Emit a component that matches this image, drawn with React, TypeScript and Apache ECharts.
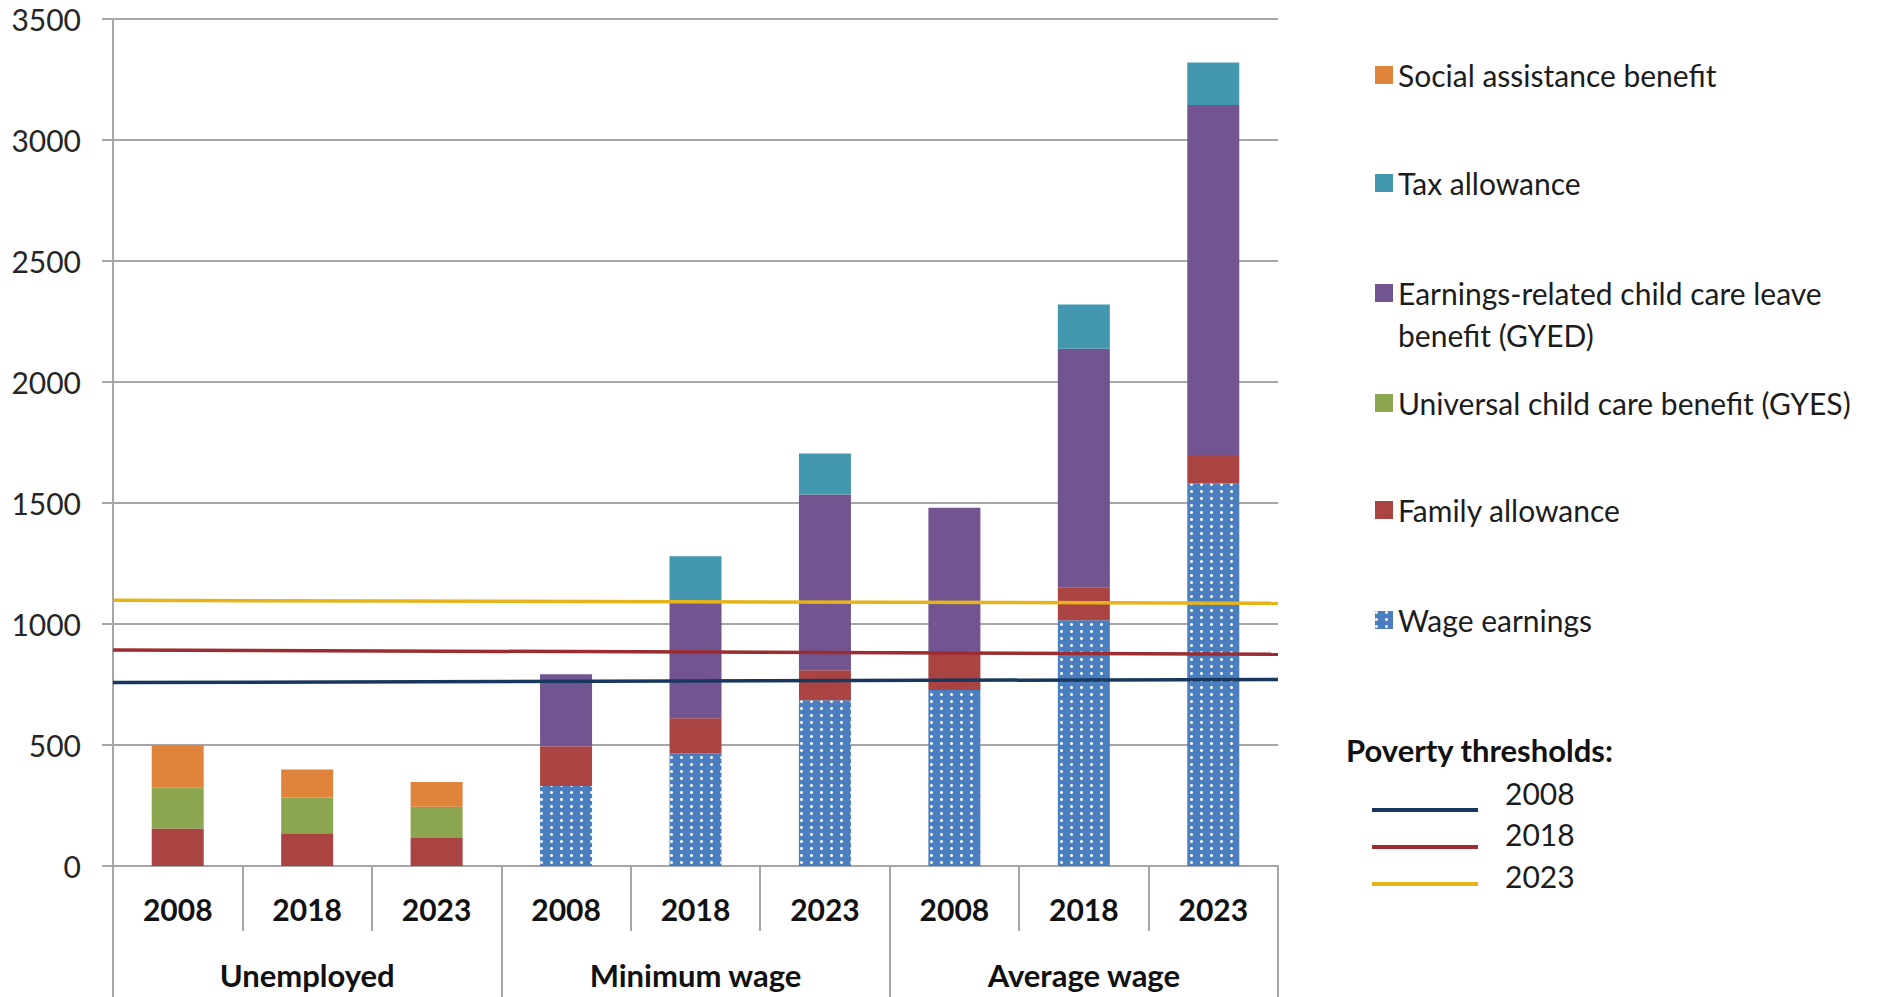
import React, { useEffect, useRef } from "react";
import * as echarts from "echarts";

// Household type groups and the years shown inside each group
const groups = ["Unemployed", "Minimum wage", "Average wage"];
const years = ["2008", "2018", "2023", "2008", "2018", "2023", "2008", "2018", "2023"];

// Monthly income components (stacked from the bottom up)
const wageEarnings = [null, null, null, 331, 466, 685, 727, 1015, 1582];
const familyAllowance = [155, 135, 116, 164, 145, 124, 160, 137, 116];
const universalChildCare = [170, 148, 129, null, null, null, null, null, null];
const earningsRelatedChildCare = [null, null, null, 297, 487, 726, 593, 985, 1447];
const taxAllowance = [null, null, null, null, 182, 170, null, 183, 175];
const socialAssistance = [175, 116, 102, null, null, null, null, null, null];

// Poverty thresholds (value at the left and right end of the plot)
const thresholdYears = ["2008", "2018", "2023"];
const threshold2008 = [758, 771];
const threshold2018 = [893, 875];
const threshold2023 = [1098, 1086];

// Value-axis scale
const yMin = 0;
const yMax = 3500;
const yStep = 500;

const FONT = "Lato";
const GRID_GREY = "#A6A6A6";
const TEXT = "#1c1c1c";

const COLORS = {
  wage: "#4A7EBF",
  family: "#AA4442",
  gyes: "#8BA64F",
  gyed: "#725590",
  tax: "#4397AF",
  social: "#E0843C",
  t2008: "#17375E",
  t2018: "#9B2D30",
  t2023: "#E6B418",
};

const NAMES = {
  wage: "Wage earnings",
  family: "Family allowance",
  gyes: "Universal child care benefit (GYES)",
  gyed: "Earnings-related child care leave benefit (GYED)",
  tax: "Tax allowance",
  social: "Social assistance benefit",
};

// Legend swatch for the two-line entry: a square level with the first text
// line; a tiny dot at the opposite corner keeps the icon box 60px tall.
const ICON_SQUARE_TOP = "path://M0,0h18v18h-18z M17.99,59.99h0.01v0.01h-0.01z";

// Threshold legend swatch: a 4px line at the bottom of an icon box of height h,
// so that the year label (centred on the box) sits above the line.
function lowLineIcon(h: number) {
  return `path://M0,0h0.01v0.01h-0.01z M0,${h - 4}h106v4h-106z`;
}

function barSeries(name: string, data: (number | null)[], color: string, extra: any = {}) {
  return {
    name,
    type: "bar",
    stack: "total",
    xAxisIndex: 0,
    yAxisIndex: 0,
    barWidth: 52,
    data,
    itemStyle: { color, ...extra },
    z: 2,
  };
}

function lineSeries(name: string, values: number[], color: string) {
  return {
    name,
    type: "line",
    xAxisIndex: 2,
    yAxisIndex: 0,
    data: [
      [0, values[0]],
      [1, values[1]],
    ],
    symbol: "none",
    color,
    lineStyle: { color, width: 3.5 },
    clip: false,
    z: 5,
  };
}

const legendText = { fontFamily: FONT, fontSize: 30, color: TEXT, lineHeight: 36 };

function barLegend(name: string, top: number) {
  return {
    data: [name],
    left: 1375,
    top,
    orient: "vertical",
    padding: 0,
    itemWidth: 18,
    itemHeight: 18,
    icon: "rect",
    selectedMode: false,
    textStyle: { ...legendText },
  };
}

// lineY: centre of the swatch line; rise: how far the label sits above it
function lineLegend(name: string, lineY: number, rise: number) {
  const h = 2 * (rise + 2);
  const textH = 34;
  const iconTop = lineY - (h - 2);
  const top = iconTop + Math.min(0, h / 2 - textH / 2);
  return {
    data: [name],
    left: 1372,
    top,
    orient: "vertical",
    padding: 0,
    itemWidth: 106,
    itemHeight: h,
    icon: lowLineIcon(h),
    selectedMode: false,
    textStyle: {
      fontFamily: FONT,
      fontSize: 30,
      color: TEXT,
      lineHeight: textH,
      padding: [0, 0, 0, 22],
    },
  };
}

export default function App() {
  const ref = useRef<HTMLDivElement>(null);

  useEffect(() => {
    if (!ref.current) return;
    const chart = echarts.init(ref.current, undefined, { renderer: "svg" });

    const wageDecal = {
      symbol: "circle",
      symbolSize: 1,
      symbolKeepAspect: false,
      color: "#ffffff",
      dashArrayX: [3, 7],
      dashArrayY: [3, 3.5],
    };

    chart.setOption({
      animation: false,
      backgroundColor: "#ffffff",
      grid: { left: 113, right: 612, top: 19, bottom: 131, containLabel: false },
      title: {
        text: "Poverty thresholds:",
        left: 1346,
        top: 732,
        padding: 0,
        textStyle: { fontFamily: FONT, fontSize: 31, fontWeight: "bold", color: "#111", lineHeight: 36 },
      },
      legend: [
        barLegend(NAMES.social, 75 - 18),
        barLegend(NAMES.tax, 183 - 18),
        {
          data: [NAMES.gyed],
          left: 1375,
          top: 293 - 21,
          orient: "vertical",
          padding: 0,
          itemWidth: 18,
          itemHeight: 60,
          icon: ICON_SQUARE_TOP,
          selectedMode: false,
          formatter: "Earnings-related child care leave\nbenefit (GYED)",
          textStyle: { ...legendText, lineHeight: 42 },
        },
        barLegend(NAMES.gyes, 403 - 18),
        barLegend(NAMES.family, 510 - 18),
        barLegend(NAMES.wage, 620 - 18),
        lineLegend(thresholdYears[0], 810, 17),
        lineLegend(thresholdYears[1], 847, 13),
        lineLegend(thresholdYears[2], 884, 8),
      ],
      xAxis: [
        {
          type: "category",
          data: years,
          position: "bottom",
          axisLine: { show: true, lineStyle: { color: GRID_GREY, width: 2 } },
          axisTick: { show: true, length: 65, interval: 0, lineStyle: { color: GRID_GREY, width: 2 } },
          axisLabel: {
            interval: 0,
            margin: 28,
            fontFamily: FONT,
            fontWeight: "bold",
            fontSize: 30,
            lineHeight: 30,
            color: "#111",
          },
        },
        {
          type: "category",
          data: groups,
          position: "bottom",
          offset: 0,
          axisLine: { show: false },
          axisTick: { show: true, length: 131, interval: 0, lineStyle: { color: GRID_GREY, width: 2 } },
          axisLabel: {
            interval: 0,
            margin: 94,
            fontFamily: FONT,
            fontWeight: "bold",
            fontSize: 31,
            lineHeight: 30,
            color: "#111",
          },
        },
        { type: "value", min: 0, max: 1, show: false },
      ],
      yAxis: {
        type: "value",
        min: yMin,
        max: yMax,
        interval: yStep,
        axisLine: { show: true, lineStyle: { color: GRID_GREY, width: 2 } },
        axisTick: { show: true, length: 11, lineStyle: { color: GRID_GREY, width: 2 } },
        splitLine: { show: true, lineStyle: { color: GRID_GREY, width: 2 } },
        axisLabel: {
          margin: 32,
          fontFamily: FONT,
          fontSize: 30,
          color: "#262626",
          formatter: (v: number) => String(v),
        },
      },
      series: [
        barSeries(NAMES.wage, wageEarnings, COLORS.wage, { decal: wageDecal }),
        barSeries(NAMES.family, familyAllowance, COLORS.family),
        barSeries(NAMES.gyes, universalChildCare, COLORS.gyes),
        barSeries(NAMES.gyed, earningsRelatedChildCare, COLORS.gyed),
        barSeries(NAMES.tax, taxAllowance, COLORS.tax),
        barSeries(NAMES.social, socialAssistance, COLORS.social),
        lineSeries(thresholdYears[0], threshold2008, COLORS.t2008),
        lineSeries(thresholdYears[1], threshold2018, COLORS.t2018),
        lineSeries(thresholdYears[2], threshold2023, COLORS.t2023),
      ],
    });

    return () => chart.dispose();
  }, []);

  return (
    <div
      ref={ref}
      style={{ position: "absolute", left: 0, top: 0, width: 1890, height: 997, background: "#fff" }}
    />
  );
}
